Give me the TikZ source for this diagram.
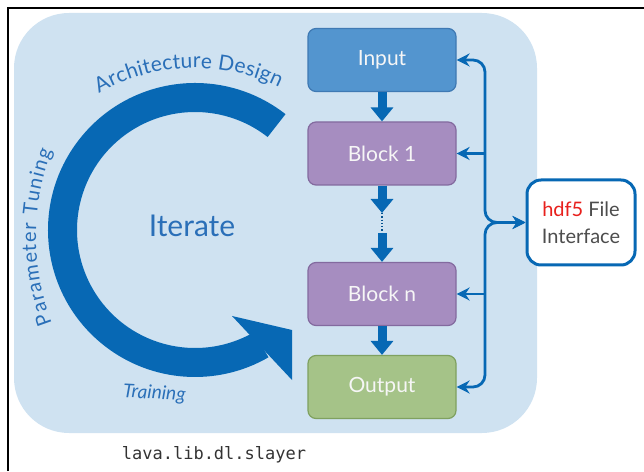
\documentclass[tikz,border=0pt]{standalone}
\usepackage{fontspec}
\setmainfont{Lato}
\newfontfamily\codefont{DejaVu Sans Mono}
\usetikzlibrary{arrows.meta,decorations.text}

\definecolor{panelblue}{HTML}{CFE2F1}
\definecolor{arcblue}{HTML}{0768B4}
\definecolor{labelblue}{HTML}{2A6FB8}
\definecolor{inputfill}{HTML}{5395CF}
\definecolor{inputdraw}{HTML}{3F79B3}
\definecolor{blockfill}{HTML}{A68DC0}
\definecolor{blockdraw}{HTML}{836A9F}
\definecolor{outfill}{HTML}{A5C388}
\definecolor{outdraw}{HTML}{7FA160}
\definecolor{boxtext}{HTML}{F6F6F6}
\definecolor{hdfred}{HTML}{E8201C}
\definecolor{filegray}{HTML}{4D4D4D}
\definecolor{codegray}{HTML}{333333}

\begin{document}
\begin{tikzpicture}[x=1pt,y=1pt,
    box/.style={rounded corners=8pt, minimum width=148pt, minimum height=63pt,
        inner sep=0pt, line width=1.2pt, text=boxtext, font=\fontsize{21}{24}\selectfont},
    flow/.style={draw=arcblue, line width=9pt, -{Triangle[length=14pt,width=22pt]}},
    link/.style={draw=arcblue, line width=2.8pt, rounded corners=12pt},
    busTip/.tip={Stealth[length=13pt,width=13pt]}]
    \useasboundingbox (0,0) rectangle (644,471);

    % Frame and panel
    \draw[line width=1.6pt] (8,0) -- (8,463) -- (644,463);
    \fill[panelblue, rounded corners=55pt] (14,38) rectangle (537,458);

    % Layer stack
    \node[box, fill=inputfill, draw=inputdraw] (input) at (382,411) {Input};
    \node[box, fill=blockfill, draw=blockdraw] (block1) at (382,317.5) {Block 1};
    \node[box, fill=blockfill, draw=blockdraw] (blockn) at (382,177) {Block n};
    \node[box, fill=outfill, draw=outdraw] (output) at (382,84) {Output};
    \coordinate (gapTop) at (382,258);
    \coordinate (gapBot) at (382,238);

    \draw[flow] (input) -- (block1);
    \draw[flow] (block1) -- (gapTop);
    \draw[arcblue!80!black, line width=1.3pt, dotted] (gapTop) -- (gapBot);
    \draw[flow] (gapBot) -- (blockn);
    \draw[flow] (blockn) -- (output);

    % File interface and its bus
    \node[draw=arcblue, fill=white, line width=3pt, rounded corners=14pt,
        minimum width=108pt, minimum height=85pt, align=center,
        font=\fontsize{20}{27}\selectfont, text=filegray] (hdf5) at (581,248.5)
        {\textcolor{hdfred}{hdf5} File\\Interface};
    \coordinate (bus) at (485,248.5);

    \draw[link, busTip-busTip] (input.east) -| (bus) -- (hdf5.west);
    \draw[link, busTip-busTip] (output.east) -| (bus) -- (hdf5.west);
    \draw[link, -busTip] (block1.east -| bus) -- (block1.east);
    \draw[link, -busTip] (blockn.east -| bus) -- (blockn.east);

    % Iteration cycle
    \begin{scope}[shift={(195,241)}]
        \fill[arcblue] (52:147) arc[start angle=52, end angle=300, radius=147]
            -- (300:118) arc[start angle=300, end angle=52, radius=118] -- cycle;
        \fill[arcblue] (37,-86) -- (97,-100) -- (97,-150) -- cycle;
    \end{scope}
    \node[text=labelblue, font=\fontsize{30}{30}\selectfont] (iterate) at (192,245) {Iterate};

    \begin{scope}[shift={(195,211)}]
        \path[decorate, decoration={text along path, text align=fit to path,
            text color=labelblue, text={|\fontsize{21}{21}\selectfont|Architecture Design}}]
            (120:192) arc[start angle=120, end angle=64, radius=192];
    \end{scope}
    \begin{scope}[shift={(276,234)}]
        \path[decorate, decoration={text along path, text align=fit to path,
            text color=labelblue, text={|\fontsize{20}{20}\selectfont|Parameter Tuning}}]
            (201:240) arc[start angle=201, end angle=159, radius=240];
    \end{scope}
    \node[text=labelblue, font=\fontsize{19}{19}\selectfont\itshape, anchor=base,
        rotate=-3] (training) at (154,72) {Training};

    \node[text=codegray, font=\codefont\fontsize{17}{17}\selectfont] (libname) at (214,16)
        {lava.lib.dl.slayer};
\end{tikzpicture}
\end{document}
